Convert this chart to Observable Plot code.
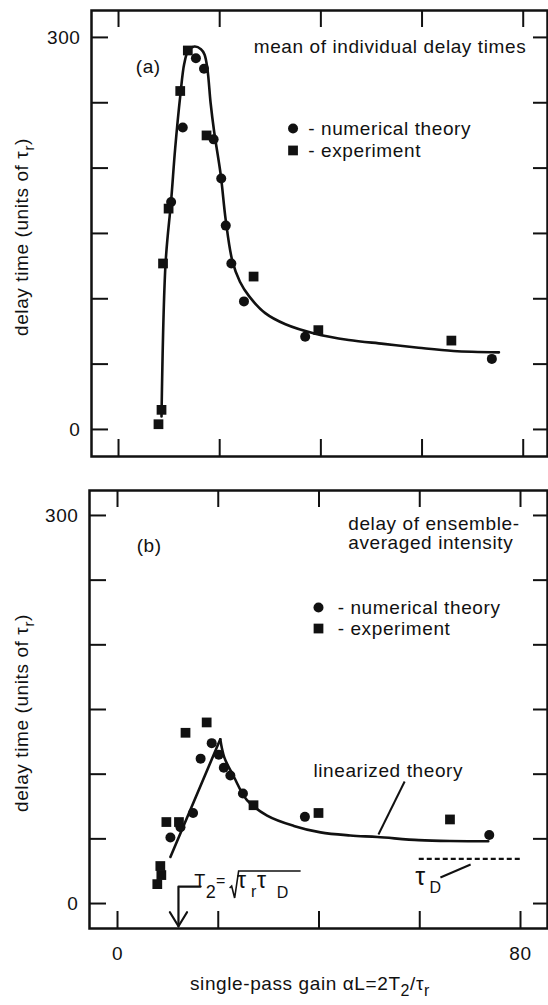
<!DOCTYPE html>
<html><head><meta charset="utf-8">
<script src="https://cdn.jsdelivr.net/npm/d3@7"></script>
<script src="https://cdn.jsdelivr.net/npm/@observablehq/plot@0.6"></script>
<style>
body{margin:0;background:#fff;}
#chart svg{display:block;}
#chart text{letter-spacing:0.6px;}
</style></head><body><div id="chart"></div>
<script>
// ---------- Panel (a): mean of individual delay times ----------
const aTheoryX = [10.4, 12.7, 15.3, 16.9, 18.8, 20.3, 21.2, 22.3, 24.8, 36.9, 73.8];
const aTheoryY = [174, 231, 284, 276, 222, 192, 156, 127, 98, 71, 54];
const aExpX = [7.9, 8.5, 8.8, 9.9, 12.2, 13.7, 17.4, 26.7, 39.5, 65.8];
const aExpY = [4, 15, 127, 169, 259, 290, 225, 117, 76, 68];
const aCurveX = [8.5, 9.3, 10.4, 11.2, 12.2, 13.0, 13.8, 15.0, 16.3, 17.0, 17.6, 18.2, 18.9, 20.2, 21.2, 22.5, 24.0, 25.8, 29.0, 33.0, 38.7, 45.5, 52.4, 59.3, 66.2, 75.2];
const aCurveY = [10, 127, 175, 215, 255, 280, 290, 293, 291, 287, 275, 250, 228, 195, 160, 129, 113, 102, 89, 80.5, 73.5, 68.5, 65.5, 62.5, 60, 59];

// ---------- Panel (b): delay of ensemble-averaged intensity ----------
const bTheoryX = [10.5, 12.5, 15.0, 16.5, 18.7, 20.1, 21.1, 22.4, 24.9, 37.2, 73.8];
const bTheoryY = [51, 59, 70, 112, 124, 115, 105, 99, 85, 67, 53];
const bExpX = [7.9, 8.5, 8.7, 9.7, 12.2, 13.5, 17.7, 27.0, 39.9, 66.0];
const bExpY = [15, 29, 22, 63, 63, 132, 140, 76, 70, 65];
// linearized theory: rising branch then decaying branch (peak shared)
const bRiseX = [10.5, 20.4];
const bRiseY = [36, 127];
const bFallX = [20.4, 21.2, 23.1, 25.7, 29.7, 35.0, 40.3, 46.2, 51.6, 59.8, 66.0, 73.6];
const bFallY = [127, 113, 98, 80, 68, 60, 55, 52.6, 51.4, 49.0, 48.3, 48.2];
const tauD = 34.6;

// ---------- axes ----------
const yTicks = [0, 50, 100, 150, 200, 250, 300];
const yTickLabels = [0, 300];
const xTicks = [0, 20, 40, 60, 80];
const xTickLabels = [0, 80];

const legendLabels = ["- numerical theory", "- experiment"];
const titleA = "mean of individual delay times";
const titleB = "delay of ensemble-\naveraged intensity";

const FONT = "'Liberation Sans', Arial, Helvetica, sans-serif";
const INK = "#111";
const FS = 19;

const pts = (xs, ys) => xs.map((x, i) => ({x, y: ys[i]}));

function frameMarks(o) {
  const iw = o.width - o.ml - o.mr, ih = o.height - o.mt - o.mb;
  const kx = (o.xd[1] - o.xd[0]) / iw, ky = (o.yd[1] - o.yd[0]) / ih;
  const L = 17, R = 14;
  const s = {stroke: INK, strokeWidth: 2};
  return [
    Plot.ruleY(yTicks, {y: d => d, x1: o.xd[0], x2: o.xd[0] + L * kx, ...s}),
    Plot.ruleY(yTicks, {y: d => d, x1: o.xd[1] - R * kx, x2: o.xd[1], ...s}),
    Plot.ruleX(xTicks, {x: d => d, y1: o.yd[0], y2: o.yd[0] + L * ky, ...s}),
    Plot.ruleX(xTicks, {x: d => d, y1: o.yd[1] - L * ky, y2: o.yd[1], ...s}),
    Plot.frame({stroke: INK, strokeWidth: 2.5}),
    Plot.axisY({ticks: yTickLabels, tickSize: 0, tickPadding: 11, label: null, fontSize: FS})
  ];
}

function legendMarks(lx, cy, sy, tx) {
  return [
    Plot.dot([0], {x: lx, y: cy, r: 5, fill: INK, stroke: null}),
    Plot.dot([0], {x: lx, y: sy, r: 5.5, symbol: "square", fill: INK, stroke: null}),
    Plot.text(legendLabels, {x: tx, y: (d, i) => i === 0 ? cy : sy, text: d => d, textAnchor: "start", lineAnchor: "middle", fontSize: FS, fill: INK})
  ];
}

function yLabel(svg, cy) {
  const t = d3.select(svg).append("text")
    .attr("transform", `translate(28,${cy}) rotate(-90)`)
    .attr("text-anchor", "middle")
    .attr("font-family", FONT).attr("font-size", FS).attr("fill", INK);
  t.append("tspan").text("delay time (units of τ");
  t.append("tspan").attr("dy", 6).attr("font-size", 15).text("r");
  t.append("tspan").attr("dy", -6).text(")");
}

const root = document.getElementById("chart");

// ----- panel a -----
const A = {width: 548, height: 470, mt: 10, mb: 14, ml: 91, mr: 1, xd: [-5.34, 84.8], yd: [-20.7, 320.6]};
const svgA = Plot.plot({
  width: A.width, height: A.height,
  marginTop: A.mt, marginBottom: A.mb, marginLeft: A.ml, marginRight: A.mr,
  x: {domain: A.xd, axis: null},
  y: {domain: A.yd},
  style: {fontFamily: FONT, fontSize: FS + "px", color: INK, background: "white", overflow: "visible"},
  marks: [
    ...frameMarks(A),
    Plot.line(pts(aCurveX, aCurveY), {x: "x", y: "y", curve: "catmull-rom", stroke: INK, strokeWidth: 2.6}),
    Plot.dot(pts(aTheoryX, aTheoryY), {x: "x", y: "y", r: 5, fill: INK, stroke: null}),
    Plot.dot(pts(aExpX, aExpY), {x: "x", y: "y", r: 5.5, symbol: "square", fill: INK, stroke: null}),
    Plot.text([titleA], {x: 80.6, y: 288.4, text: d => d, textAnchor: "end", lineAnchor: "bottom", fontSize: FS, fill: INK}),
    Plot.text(["(a)"], {x: 3.4, y: 273, text: d => d, textAnchor: "start", lineAnchor: "bottom", fontSize: FS, fill: INK}),
    ...legendMarks(34.5, 230.3, 213.5, 37.5)
  ]
});
yLabel(svgA, (A.mt + A.height - A.mb) / 2 + 4);
root.appendChild(svgA);

// ----- panel b -----
const B = {width: 548, height: 535, mt: 20, mb: 77, ml: 89, mr: 1, xd: [-5.56, 85.36], yd: [-19.3, 319.3]};
const svgB = Plot.plot({
  width: B.width, height: B.height,
  marginTop: B.mt, marginBottom: B.mb, marginLeft: B.ml, marginRight: B.mr,
  x: {domain: B.xd},
  y: {domain: B.yd},
  style: {fontFamily: FONT, fontSize: FS + "px", color: INK, background: "white", overflow: "visible"},
  marks: [
    ...frameMarks(B),
    Plot.axisX({ticks: xTickLabels, tickSize: 0, tickPadding: 18, label: null, fontSize: FS}),
    Plot.line(pts(bRiseX, bRiseY), {x: "x", y: "y", stroke: INK, strokeWidth: 2.6}),
    Plot.line(pts(bFallX, bFallY), {x: "x", y: "y", curve: "catmull-rom", stroke: INK, strokeWidth: 2.6}),
    Plot.dot(pts(bTheoryX, bTheoryY), {x: "x", y: "y", r: 5, fill: INK, stroke: null}),
    Plot.dot(pts(bExpX, bExpY), {x: "x", y: "y", r: 5.5, symbol: "square", fill: INK, stroke: null}),
    Plot.text([titleB], {x: 45.8, y: 273.7, text: d => d, textAnchor: "start", lineAnchor: "bottom", lineHeight: 1.0, fontSize: FS, fill: INK}),
    Plot.text(["(b)"], {x: 3.8, y: 271.4, text: d => d, textAnchor: "start", lineAnchor: "bottom", fontSize: FS, fill: INK}),
    ...legendMarks(39.9, 228.9, 212.6, 43.7),
    // linearized theory label + leader
    Plot.text(["linearized theory"], {x: 38.9, y: 98.2, text: d => d, textAnchor: "start", lineAnchor: "bottom", fontSize: FS, fill: INK}),
    Plot.link([0], {x1: 57.0, y1: 94.3, x2: 51.8, y2: 53.4, stroke: INK, strokeWidth: 2}),
    // tau_D dashed level + leader
    Plot.ruleY([tauD], {x1: 59.9, x2: 80.4, stroke: INK, strokeWidth: 2.2, strokeDasharray: "5,3"}),
    Plot.link([0], {x1: 70.1, y1: 30.2, x2: 64.1, y2: 20.1, stroke: INK, strokeWidth: 2}),
    // T2 bracket arrow
    Plot.line([{x: 16.5, y: 13.1}, {x: 12.1, y: 13.1}, {x: 12.1, y: -17.6}], {x: "x", y: "y", stroke: INK, strokeWidth: 2.2}),
    Plot.line([{x: 10.4, y: -6.7}, {x: 12.1, y: -17.6}, {x: 13.8, y: -6.7}], {x: "x", y: "y", stroke: INK, strokeWidth: 2.2})
  ]
});
yLabel(svgB, (B.mt + B.height - B.mb) / 2 + 4);

(function annotations() {
  const xs = svgB.scale("x"), ys = svgB.scale("y");
  const g = d3.select(svgB).append("g").attr("font-family", FONT).attr("fill", INK).attr("font-size", FS);
  // T2 = sqrt(tau_r tau_D), drawn as one text element with tspans
  const ax = xs.apply(16.8), ay = ys.apply(12.4);
  const t1 = g.append("text").attr("x", ax - 2).attr("y", ay).attr("font-size", 18).style("letter-spacing", "0px");
  t1.append("tspan").text("T");
  t1.append("tspan").attr("x", ax + 9).attr("dy", 11).text("2");
  t1.append("tspan").attr("x", ax + 19).attr("dy", -12).attr("font-size", 16).text("=");
  g.append("path")
    .attr("d", `M${ax + 28},${ay + 1}L${ax + 30},${ay - 1}L${ax + 33},${ay + 11}L${ax + 37},${ay - 16}L${ax + 99},${ay - 16}`)
    .attr("fill", "none").attr("stroke", INK).attr("stroke-width", 1.6);
  const t2 = g.append("text").attr("x", ax + 40).attr("y", ay + 1).style("letter-spacing", "0px");
  t2.append("tspan").attr("font-size", 23).text("τ");
  t2.append("tspan").attr("x", ax + 52).attr("dy", 9).attr("font-size", 16).text("r");
  t2.append("tspan").attr("x", ax + 60).attr("dy", -9).attr("font-size", 23).text("τ");
  t2.append("tspan").attr("x", ax + 81).attr("dy", 10).attr("font-size", 16).text("D");
  // tau_D label
  const tx = xs.apply(60.2), ty = ys.apply(14);
  const t3 = g.append("text").attr("x", tx).attr("y", ty).style("letter-spacing", "0px");
  t3.append("tspan").attr("font-size", 25).text("τ");
  t3.append("tspan").attr("x", tx + 15).attr("dy", 8).attr("font-size", 16).text("D");
  // x-axis title
  const t = g.append("text").attr("x", (B.ml + B.width - B.mr) / 2 - 8).attr("y", B.height - 15).attr("text-anchor", "middle");
  t.append("tspan").text("single-pass gain αL=2T");
  t.append("tspan").attr("dy", 6).attr("font-size", 16).text("2");
  t.append("tspan").attr("dy", -6).text("/τ");
  t.append("tspan").attr("dy", 6).attr("font-size", 16).text("r");
})();
root.appendChild(svgB);
</script></body></html>
